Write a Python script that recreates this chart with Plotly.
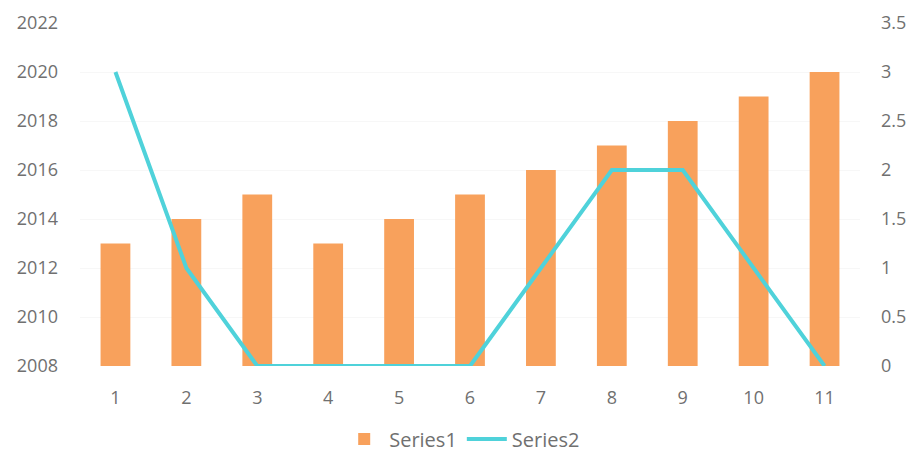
import plotly.graph_objects as go

categories = ["1", "2", "3", "4", "5", "6", "7", "8", "9", "10", "11"]
series1 = [2013, 2014, 2015, 2013, 2014, 2015, 2016, 2017, 2018, 2019, 2020]
series2 = [3, 1, 0, 0, 0, 0, 1, 2, 2, 1, 0]

fig = go.Figure()
fig.add_trace(go.Bar(x=categories, y=series1, name="Series1",
                     marker=dict(color="#F8A15C", line=dict(width=0)),
                     yaxis="y"))
fig.add_trace(go.Scatter(x=categories, y=series2, name="Series2", mode="lines",
                         line=dict(color="#4FD2DA", width=4), yaxis="y2"))

font = dict(family="Open Sans, Liberation Sans, sans-serif", size=18, color="#707070")
legend_font = dict(family="Open Sans, Liberation Sans, sans-serif", size=20, color="#707070")
fig.update_layout(
    width=908, height=449,
    margin=dict(l=72, r=56, t=15, b=91, autoexpand=False),
    paper_bgcolor="white", plot_bgcolor="white",
    bargap=0.58,
    font=font,
    xaxis=dict(type="category", showgrid=False, showline=False, zeroline=False,
               ticks="", tickfont=font, ticklabelstandoff=19),
    yaxis=dict(range=[2008, 2022], dtick=2, showgrid=True, gridcolor="#F7F7F7",
               zeroline=False, showline=False, tickfont=font, ticklabelstandoff=21),
    yaxis2=dict(range=[0, 3.5], dtick=0.5, overlaying="y", side="right",
                showgrid=False, zeroline=False, showline=False, tickfont=font,
                ticklabelstandoff=20),
    legend=dict(orientation="h", x=0.49, xanchor="center", yref="container",
                y=0.04, yanchor="middle", font=legend_font, itemwidth=40),
)
fig.write_html("out.html")
